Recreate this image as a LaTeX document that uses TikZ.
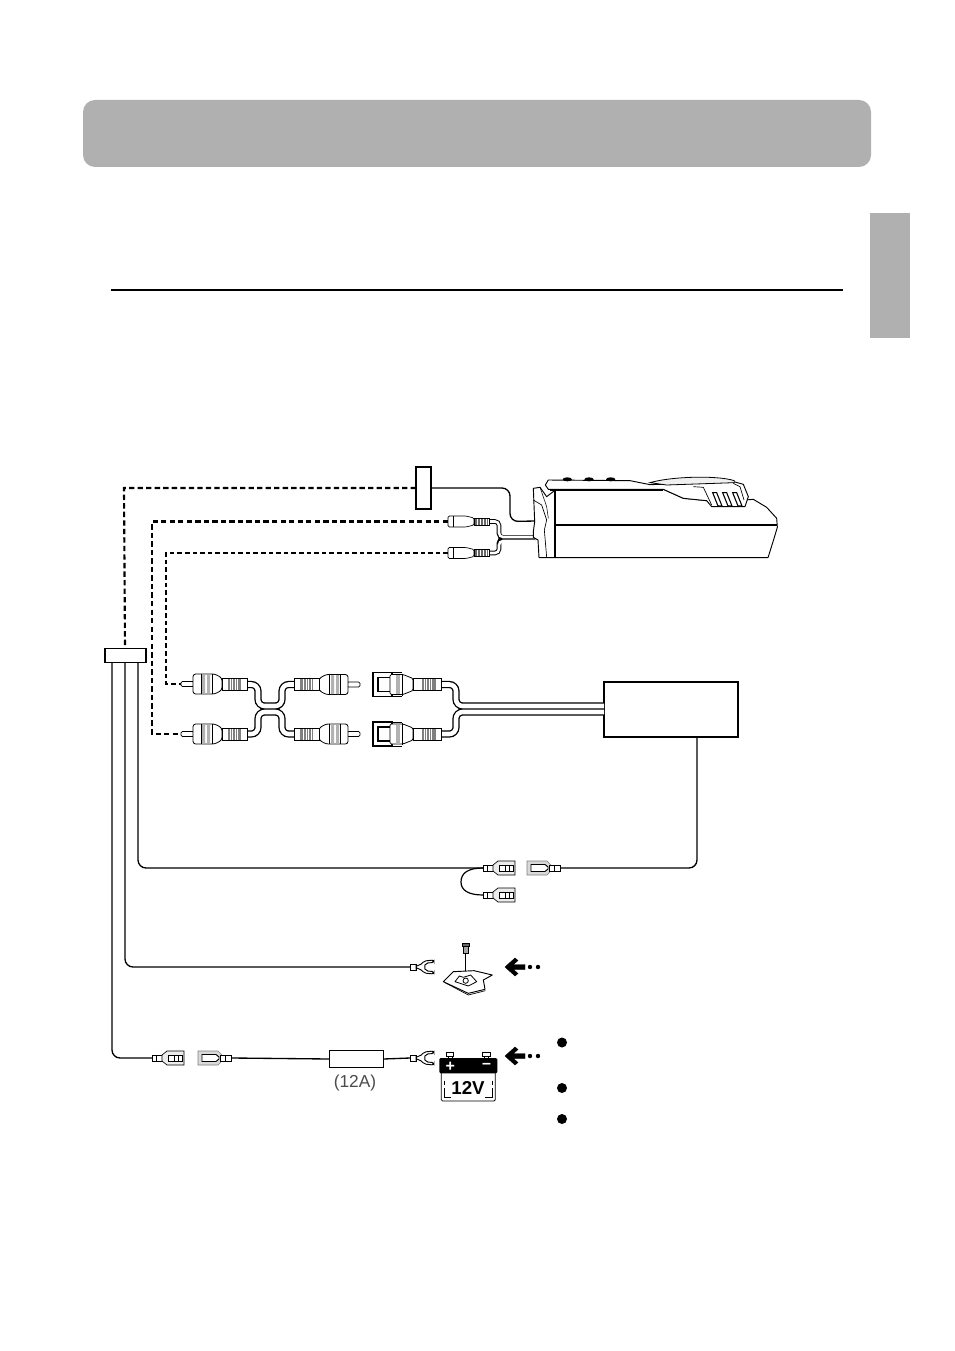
\documentclass[tikz,border=0pt]{standalone}
\usepackage{fontspec}
\setmainfont{Liberation Sans}
\usetikzlibrary{arrows.meta,calc}
\definecolor{bandgray}{HTML}{B0B0B0}
\definecolor{stripe}{HTML}{808080}
\tikzset{
  wire/.style={draw=black,line width=1pt,rounded corners=6pt},
  dashwire/.style={draw=black,line width=1.6pt,dash pattern=on 4pt off 2.4pt},
  thindash/.style={draw=black,line width=1.2pt,dash pattern=on 3.5pt off 2.2pt},
  boxnode/.style={draw=black,fill=white,line width=1pt,inner sep=0pt,outer sep=0pt,minimum width=#1},
  cableO/.style={draw=black,line width=5.4pt,rounded corners=5pt},
  cableI/.style={draw=white,line width=3.4pt,rounded corners=5pt},
  part/.style={draw=black,fill=white,line width=.6pt},
  pics/rcaplug/.style={code={
    \draw[part,rounded corners=1pt] (0,-2.5) rectangle (13,2.5);
    \draw[part,rounded corners=2pt] (12,-10) -- (30,-10) -- (34,-10) -- (41,-6) -- (41,6) -- (34,10) -- (12,10) -- cycle;
    \fill[gray!60] (21,-9.5) rectangle (24,9.5) (26,-9.5) rectangle (29,9.5);
    \draw[line width=.5pt] (20,-10) -- (20,10) (31,-10) -- (31,10);
    \draw[part] (41,-6) rectangle (66,6);
    \fill[stripe] (47,-5.5) rectangle (60,5.5);
    \foreach \s in {49,51.5,54,56.5}{\draw[white,line width=.35pt] (\s,-5.5) -- (\s,5.5);}
  }},
  pics/rcajack/.style={code={
    \draw[part,line width=.9pt] (0,-12) rectangle (19,12);
    \draw[part,line width=.9pt] (5,-7) rectangle (19,7);
    \draw[part,rounded corners=1pt] (17,-10) -- (30,-10) -- (40,-6) -- (40,6) -- (30,10) -- (17,10) -- cycle;
    \fill[gray!60] (23,-9.5) rectangle (27,9.5);
    \draw[line width=.5pt] (29,-11) -- (29,11) (17,-12) -- (29,-12) (17,12) -- (29,12);
    \draw[part] (40,-6) rectangle (68,6);
    \fill[stripe] (49,-5.5) rectangle (63,5.5);
    \foreach \s in {51,53.5,56,58.5}{\draw[white,line width=.35pt] (\s,-5.5) -- (\s,5.5);}
  }},
  pics/smallrca/.style={code={
    \draw[draw=black,fill=white,line width=.5pt,rounded corners=1pt] (0,-5.5) -- (5,-5.5) -- (18,-5.5) -- (26,-3.5) -- (26,3.5) -- (18,5.5) -- (0,5.5) -- cycle;
    \draw[line width=.4pt] (5,-5.5) -- (5,5.5);
    \draw[part,line width=.4pt] (26,-3.5) rectangle (41,3.5);
    \fill[stripe!80!black] (27,-3) rectangle (40,3);
    \foreach \s in {29,32,35,38}{\draw[white,line width=.3pt] (\s,-3) -- (\s,3);}
  }},
  pics/malecon/.style={code={
    \draw[part,line width=.5pt] (0,-3) rectangle (10,3);
    \draw[line width=.4pt] (4,-3) -- (4,3);
    \draw[part,fill=gray!15,line width=.5pt] (10,-3) -- (15,-7) -- (32,-7) -- (32,7) -- (15,7) -- (10,3) -- cycle;
    \draw[part,line width=.6pt] (16,-3) rectangle (30,3);
    \draw[line width=.4pt] (22,-3) -- (22,3) (26,-3) -- (26,3);
  }},
  pics/femcon/.style={code={
    \draw[draw=black!50,fill=gray!30,line width=.5pt] (0,-7) -- (20,-7) -- (24,-3) -- (24,3) -- (20,7) -- (0,7) -- cycle;
    \draw[part,line width=.7pt] (4,-3.5) -- (18,-3.5) -- (21,-1) -- (21,1) -- (18,3.5) -- (4,3.5) -- cycle;
    \draw[part,line width=.5pt] (22,-3) rectangle (33,3);
    \draw[line width=.4pt] (27,-3) -- (27,3);
  }},
  pics/forkend/.style={code={
    \draw[part,line width=.5pt] (0,-3) rectangle (6,3);
    \draw[draw=black,fill=white,line width=.7pt,rounded corners=1.5pt] (6,-1.5) -- (10,-1.5) -- (14,-6) -- (24,-7) -- (24,-4.5) -- (16,-4) -- (14,0) -- (16,4) -- (24,4.5) -- (24,7) -- (14,6) -- (10,1.5) -- (6,1.5) -- cycle;
  }},
  pics/bigarrow/.style={code={
    \fill[line join=round,draw=black,line width=.3pt] (0,0) -- (10,-9) -- (13,-6.5) -- (8.5,-2.5) -- (20,-2.5) -- (20,2.5) -- (8.5,2.5) -- (13,6.5) -- (10,9) -- cycle;
    \fill (25,0) circle (2.2) (33,0) circle (2.2);
  }},
}
\begin{document}
\begin{tikzpicture}[x=.75pt,y=-.75pt]
\useasboundingbox[fill=white] (0,0) rectangle (954,1351);
% page furniture
\fill[bandgray,rounded corners=9pt] (83,100) rectangle (871,167);
\fill[bandgray] (870,213) rectangle (910,338);
\draw[line width=1.4pt] (111,290) -- (843,290);

% boxes
\node[boxnode=15*.75pt,minimum height=42*.75pt] (conA) at (423.5,488) {};
\node[boxnode=41*.75pt,minimum height=14.5*.75pt] (hub) at (125.5,655.5) {};
\node[boxnode=134*.75pt,minimum height=55*.75pt,line width=.8pt] (amp) at (671,709.5) {};
\node[boxnode=54*.75pt,minimum height=17*.75pt,line width=.8pt] (fuse) at (356.5,1059) {};
\node[text=black!70,font=\fontsize{13}{14}\selectfont,inner sep=0pt] (fuselabel) at (355,1083) {(12A)};

% hub coordinates
\coordinate (hubL) at (112,663);
\coordinate (hubM) at (125,663);
\coordinate (hubR) at (138,663);
\coordinate (hubTop) at (125,648);
\coordinate (devIn) at (535,521);
\coordinate (rcaTopA) at (448,521.5);
\coordinate (rcaTopB) at (448,553);
\coordinate (plugA) at (181,684);
\coordinate (plugB) at (181,734);
\coordinate (conY) at (483,868);
\coordinate (femY) at (560,868);
\coordinate (forkG) at (410,967);
\coordinate (conF) at (152,1058);
\coordinate (femF) at (232,1058);
\coordinate (forkB) at (410,1058);

% upper wires
\draw[wire] (conA.east) -- (510,488) -- (510,521.5) -- (devIn);
\draw[dashwire] (conA.west) -- (124,488) -- (hubTop);
\draw[dashwire] (rcaTopA) -- (152,521.5) -- (152,734) -- (plugB);
\draw[thindash] (rcaTopB) -- (166,553) -- (166,684) -- (plugA);

% device cables
\begin{scope}[rounded corners=3pt]
\draw[draw=black,line width=3.4pt] (488,521.5) -- (499,521.5) -- (499,537.5) -- (535,537.5);
\draw[draw=black,line width=3.4pt] (488,553) -- (499,553) -- (499,539) -- (535,539);
\draw[draw=white,line width=1.9pt] (488,521.5) -- (499,521.5) -- (499,537) -- (535,537);
\draw[draw=white,line width=1.9pt] (488,553) -- (499,553) -- (499,541) -- (535,541);
\end{scope}

% lower wires
\draw[wire] (hubL) -- (112,1058) -- (conF);
\draw[wire] (hubM) -- (hubM |- forkG) -- (forkG);
\draw[wire] (hubR) -- (138,868) -- (conY);
\draw[wire] (697,737) -- (697,868) -- (femY);
\draw[wire,rounded corners=0pt] (femF) -- (fuse.west);
\draw[wire,rounded corners=0pt] (fuse.east) -- (forkB);
\draw[line width=.9pt] (483,868) .. controls (468,868) and (461,873) .. (461,882) .. controls (461,890) and (468,895) .. (483,895);

% cable harness
\foreach \st in {cableO,cableI}{
  \draw[\st] (246,684.5) -- (258,684.5) -- (258,706) -- (282,706) -- (282,684.5) -- (295,684.5);
  \draw[\st] (246,734) -- (258,734) -- (258,712) -- (282,712) -- (282,734) -- (295,734);
  \draw[\st] (440,684.5) -- (456,684.5) -- (456,706) -- (604,706);
  \draw[\st] (440,734) -- (456,734) -- (456,712) -- (604,712);
}

% plugs
\pic at (plugA) {rcaplug};
\pic at (plugB) {rcaplug};
\pic[xscale=-1] at (360,684.5) {rcaplug};
\pic[xscale=-1] at (360,734) {rcaplug};
\pic at (373,684.5) {rcajack};
\pic at (373,734) {rcajack};
\pic at (rcaTopA) {smallrca};
\pic at (rcaTopB) {smallrca};

% small connectors
\pic at (conY) {malecon};
\pic at (483,895) {malecon};
\pic at (527,868) {femcon};
\pic at (conF) {malecon};
\pic at (198,1058) {femcon};
\pic at (forkG) {forkend};
\pic at (forkB) {forkend};

% ground plate and screw
\begin{scope}[shift={(400,840)},x=.25pt,y=-.25pt]
\draw[line width=.5pt] (197,335) -- (197,408);
\draw[draw=black,fill=black!60,line width=.4pt] (187,310) rectangle (207,320);
\draw[draw=black,fill=black!35,line width=.4pt] (190,320) rectangle (204,340);
\draw[draw=black,fill=white,line width=.7pt,line join=round] (130,425) -- (160,395) -- (222,392) -- (277,405) -- (250,420) -- (255,448) -- (205,460) -- cycle;
\draw[line width=.6pt,line join=round] (165,425) -- (178,408) -- (190,412) -- (212,405) -- (230,425) -- (205,438) -- cycle;
\draw[line width=.6pt] (197,422) circle (8);
\draw[line width=.5pt] (135,428) -- (205,465) -- (256,452);
\end{scope}
\pic at (505,967) {bigarrow};
\pic at (505,1056) {bigarrow};

% battery
\begin{scope}[shift={(100,1020)},x=.25pt,y=-.25pt]
\draw[draw=black,fill=white,line width=.6pt,rounded corners=1pt] (1024,155) rectangle (1186,243);
\draw[draw=black,fill=white,line width=.5pt] (1040,96) rectangle (1060,108) (1148,96) rectangle (1170,108);
\draw[line width=.5pt] (1044,108) -- (1044,114) (1056,108) -- (1056,114) (1152,108) -- (1152,114) (1166,108) -- (1166,114);
\fill[rounded corners=1pt] (1018,114) rectangle (1192,160);
\draw[line width=.5pt] (1032,205) -- (1032,232) -- (1052,232) (1178,205) -- (1178,232) -- (1155,232) (1176,182) -- (1176,195) (1034,182) -- (1034,195);
\node[text=white,inner sep=0pt,font=\bfseries\fontsize{12}{12}\selectfont] (plusT) at (1051,141) {+};
\node[text=white,inner sep=0pt,font=\bfseries\fontsize{12}{12}\selectfont] (minusT) at (1160,139) {–};
\node[inner sep=0pt,font=\bfseries\fontsize{14}{14}\selectfont] (voltT) at (1104,204) {12V};
\end{scope}

% bullets
\fill (562,1042.5) circle (5) (562,1088) circle (5) (562,1119) circle (5);

% device
\begin{scope}[shift={(400,450)},x=.25pt,y=-.25pt]
\draw[draw=black,fill=white,line width=.7pt,line join=round]
  (466,118) -- (790,118) -- (850,145) -- (920,152) -- (1035,150) -- (1060,148) -- (1100,172) -- (1130,205) -- (1132,232) -- (1120,272) -- (1104,323) -- (466,323) -- cycle;
\draw[draw=black,fill=white,line width=.7pt,line join=round]
  (436,105) -- (445,90) -- (690,92) -- (750,104) -- (1005,96) -- (1030,103) -- (1045,140) -- (1035,170) -- (935,170) -- (920,152) -- (850,145) -- (790,118) -- (445,118) -- cycle;
\draw[draw=black,fill=white,line width=.7pt,line join=round]
  (400,115) -- (420,112) -- (440,140) -- (466,120) -- (466,323) -- (417,323) -- (414,270) -- (400,262) -- (400,245) -- (404,215) -- cycle;
\draw[line width=.5pt] (400,150) -- (425,165) -- (440,210) -- (433,240) -- (440,322);
\draw[line width=.4pt] (420,112) -- (440,170) -- (445,205);
\draw[line width=1.4pt] (466,118) -- (466,323);
\draw[line width=1.3pt] (466,225) -- (1130,225);
\draw[line width=.9pt] (450,122) -- (790,122);
\draw[draw=black,fill=gray!12,line width=.6pt] (750,98) .. controls (810,80) and (950,75) .. (1003,92) -- (1003,98) -- (800,105) -- cycle;
\draw[line width=.5pt] (880,110) -- (910,112) -- (935,165);
\draw[line width=.5pt] (1000,100) -- (1020,110) -- (1032,150);
\foreach \bx in {502,567,632}{
  \fill (\bx,88) ellipse (14 and 6);
}
\foreach \vx in {938,968,998}{
  \draw[draw=black,fill=white,line width=.8pt] (\vx,128) -- (\vx+12,128) -- (\vx+28,168) -- (\vx+16,168) -- cycle;
}
\end{scope}
\end{tikzpicture}
\end{document}
